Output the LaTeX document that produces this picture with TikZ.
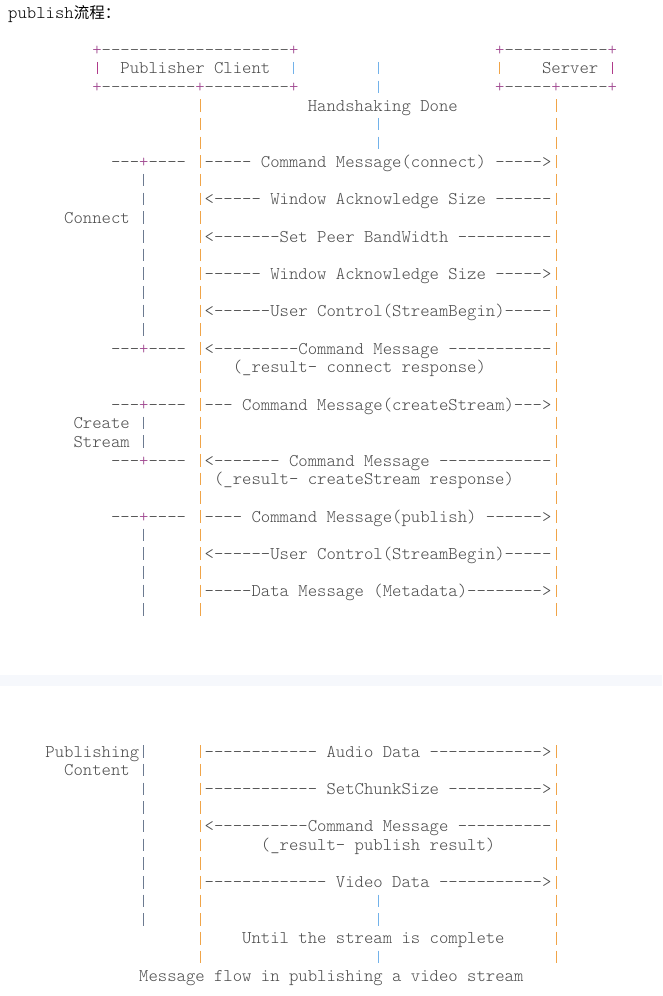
\documentclass[tikz,border=0pt]{standalone}
\usepackage{fontspec}
\setmonofont{lmmonolt10-regular.otf}
\newfontfamily\cjk{Noto Sans CJK SC}
\definecolor{txt}{HTML}{4A4A4A}
\definecolor{dash}{HTML}{555555}
\definecolor{plus}{HTML}{A04890}
\definecolor{mag}{HTML}{B03A8A}
\definecolor{ora}{HTML}{F0A448}
\definecolor{blu}{HTML}{72B2EA}
\definecolor{gr}{HTML}{6C7A90}
\definecolor{band}{HTML}{F6F8FC}
\newcommand\fs{\ttfamily\fontsize{17.85}{20}\selectfont}
\newcounter{nd}
\tikzset{glyph/.style={anchor=base west,inner sep=0pt,outer sep=0pt,font=\fs},
  bar/.style={line width=1pt}}
% block 1 and block 2 placement: column, line, colour, text
\newcommand\A[4]{\stepcounter{nd}\node[glyph,text=#3] (a\thend) at ({92.3+9.37*(#1)},{-(55.3+18.67*(#2))}) {#4};}
\newcommand\B[4]{\stepcounter{nd}\node[glyph,text=#3] (b\thend) at ({92.3+9.37*(#1)},{-(757.2+18.67*(#2))}) {#4};}
% vertical bars drawn as short strokes: column, line, colour
\newcommand\VA[3]{\draw[bar,#3] ({97+9.37*(#1)},{-(49.5+18.67*(#2))+6.3}) -- ++(0,-12.6);}
\newcommand\VB[3]{\draw[bar,#3] ({97+9.37*(#1)},{-(751.5+18.67*(#2))+6.3}) -- ++(0,-12.6);}
\begin{document}
\begin{tikzpicture}[x=1pt,y=1pt]
\useasboundingbox (0,0) rectangle (662,-996);
\fill[white] (0,0) rectangle (662,-996);
\fill[band] (0,-675) rectangle (662,-686);
\node[anchor=base west,inner sep=0pt,text=black] (title) at (8,-18) {\fs publish{\cjk\fontsize{15.5}{18}\selectfont 流程：}};
% ---------- block 1 ----------
\A{0}{0}{plus}{+}\A{1}{0}{dash}{--------------------}\A{21}{0}{plus}{+}
\A{43}{0}{plus}{+}\A{44}{0}{dash}{-----------}\A{55}{0}{plus}{+}
\VA{0}{1}{mag}\A{3}{1}{txt}{Publisher Client}\VA{21}{1}{blu}\VA{30}{1}{blu}
\VA{43}{1}{ora}\A{48}{1}{txt}{Server}\VA{55}{1}{mag}
\A{0}{2}{plus}{+}\A{1}{2}{dash}{----------}\A{11}{2}{plus}{+}\A{12}{2}{dash}{---------}\A{21}{2}{plus}{+}
\VA{30}{2}{blu}
\A{43}{2}{plus}{+}\A{44}{2}{dash}{-----}\A{49}{2}{plus}{+}\A{50}{2}{dash}{-----}\A{55}{2}{plus}{+}
\A{23}{3}{txt}{Handshaking Done}
\foreach \l in {3,...,30} {\VA{11}{\l}{ora}\VA{49}{\l}{ora}}
\foreach \l in {4,5} {\VA{30}{\l}{blu}}
\foreach \l in {7,...,15,20,21,26,27,28,29,30} {\VA{5}{\l}{gr}}
\foreach \l in {6,16,19,22,25} {\A{2}{\l}{txt}{---}\A{5}{\l}{plus}{+}\A{6}{\l}{txt}{----}}
\A{12}{6}{txt}{----- Command Message(connect) ----->}
\A{12}{8}{txt}{<----- Window Acknowledge Size ------}
\A{-3}{9}{txt}{Connect}
\A{12}{10}{txt}{<-------Set Peer BandWidth ----------}
\A{12}{12}{txt}{------ Window Acknowledge Size ----->}
\A{12}{14}{txt}{<------User Control(StreamBegin)-----}
\A{12}{16}{txt}{<---------Command Message -----------}
\A{15}{17}{txt}{(\_result- connect response)}
\A{12}{19}{txt}{--- Command Message(createStream)--->}
\A{-2}{20}{txt}{Create}
\A{-2}{21}{txt}{Stream}
\A{12}{22}{txt}{<------- Command Message ------------}
\A{13}{23}{txt}{(\_result- createStream response)}
\A{12}{25}{txt}{---- Command Message(publish) ------>}
\A{12}{27}{txt}{<------User Control(StreamBegin)-----}
\A{12}{29}{txt}{-----Data Message (Metadata)-------->}
% ---------- block 2 ----------
\foreach \l in {0,...,11} {\VB{11}{\l}{ora}\VB{49}{\l}{ora}}
\foreach \l in {0,...,9} {\VB{5}{\l}{gr}}
\foreach \l in {8,9,11} {\VB{30}{\l}{blu}}
\B{-5}{0}{txt}{Publishing}
\B{12}{0}{txt}{------------ Audio Data ------------>}
\B{-3}{1}{txt}{Content}
\B{12}{2}{txt}{------------ SetChunkSize ---------->}
\B{12}{4}{txt}{<----------Command Message ----------}
\B{18}{5}{txt}{(\_result- publish result)}
\B{12}{7}{txt}{------------- Video Data ----------->}
\B{16}{10}{txt}{Until the stream is complete}
\B{5}{12}{txt}{Message flow in publishing a video stream}
\end{tikzpicture}
\end{document}
